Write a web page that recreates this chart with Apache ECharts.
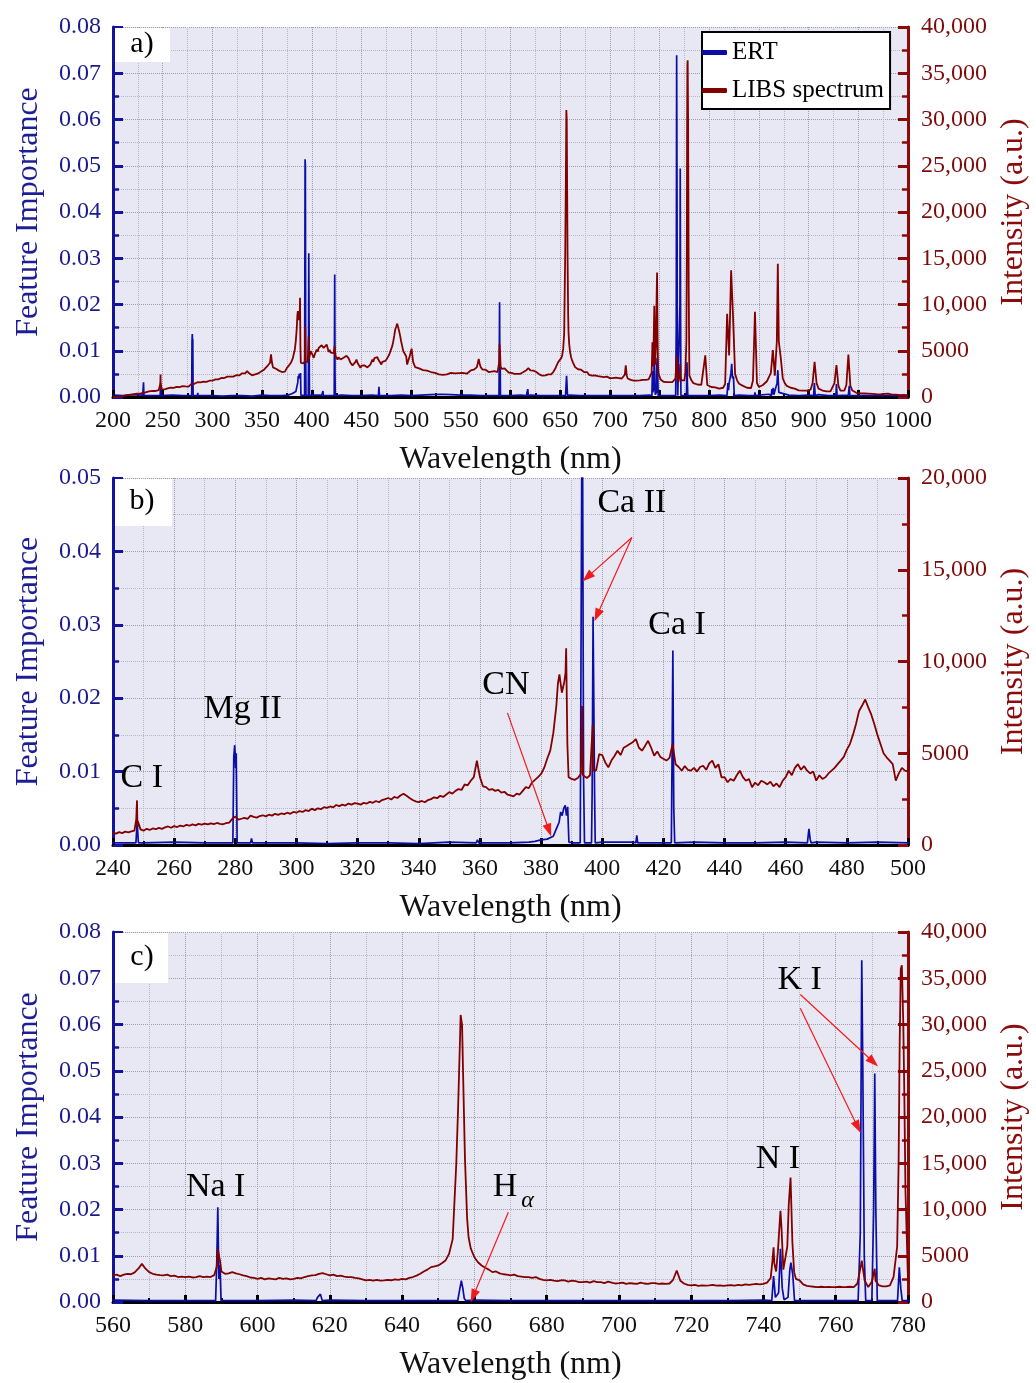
<!DOCTYPE html>
<html>
<head>
<meta charset="utf-8">
<script src="https://cdn.jsdelivr.net/npm/echarts@6/dist/echarts.min.js"></script>
<style>
html, body { margin: 0; padding: 0; background: #fff; }
#myChart { width: 1036px; height: 1383px; }
</style>
</head>
<body>
<div id="myChart"></div>
<script>
const libs200to238 = [0, 40, 20, 80, 60, 100, 140, 120, 220, 180, 290, 260, 350, 400, 380, 540, 470, 560, 600, 640]; // 2 nm step
const libs240to500 = [ // 1 nm step
  670, 620, 700, 650, 730, 690, 740, 780, 1000, 850,
  780, 880, 820, 900, 860, 930, 880, 960, 1010, 940,
  1030, 980, 1060, 1010, 1100, 1050, 1120, 1070, 1150, 1110,
  1170, 1120, 1180, 1140, 1200, 1150, 1130, 1190, 1220, 1420,
  1560, 1380, 1430, 1480, 1420, 1600, 1530, 1490, 1580, 1620,
  1560, 1650, 1600, 1700, 1640, 1720, 1680, 1760, 1700, 1800,
  1760, 1850, 1800, 1900, 1850, 1980, 1900, 2000, 1950, 2060,
  2020, 2100, 2050, 2180, 2120, 2200, 2150, 2260, 2200, 2280,
  2250, 2200, 2300, 2260, 2350, 2300, 2400, 2330, 2450, 2500,
  2560, 2480, 2620, 2560, 2700, 2790, 2680, 2560, 2450, 2380,
  2340, 2400, 2330, 2450, 2500, 2600, 2550, 2680, 2620, 2750,
  2880, 2800, 2950, 3050, 3000, 3300, 3250, 3500, 3700, 4600,
  3700, 3200, 3150, 3000, 3050, 2950, 3000, 2850, 2900, 2750,
  2700, 2650, 2800, 2750, 2950, 3150, 3100, 3400, 3550, 3700,
  3870, 4200, 4700, 5140, 6100, 7600, 9300, 8400, 9400, 3700,
  3600, 3550, 3650, 3870, 3700, 3650, 3800, 4100, 4050, 4950,
  4900, 4500, 4230, 4600, 4850, 5140, 4900, 5300, 5400, 5500,
  5600, 5770, 5300, 5140, 5400, 5680, 5300, 4870, 5100, 4800,
  4700, 4600, 4750, 5500, 4400, 4250, 4050, 4300, 4100, 4050,
  4200, 4000, 4250, 4320, 4100, 4450, 4600, 4200, 4400, 3690,
  3700, 3420, 3600, 3500, 3800, 4050, 3700, 3500, 3600, 3150,
  3400, 3250, 3500, 3420, 3300, 3450, 3200, 3350, 3150, 3500,
  3700, 4050, 3800, 4200, 4410, 4100, 4300, 4050, 3900, 4000,
  3510, 3800, 3600, 3690, 3900, 4050, 4200, 4410, 4600, 4800,
  5200, 5500, 6000, 6600, 7300, 7600, 7930, 7500, 7100, 6580,
  6000, 5500, 5000, 4780, 4600, 4410, 3510, 3900, 4200, 4050,
  4000
];
const libs502to558 = [3800, 3240, 3400, 3100, 3060, 2900, 3000, 2850, 2800, 2700, 2750, 2600, 2500, 2450, 2340,
  2400, 2500, 2450, 2520, 2600, 2480, 2550, 2650, 2590, 2700, 2600, 2750, 2520, 2650]; // 2 nm step
const libs560to780 = [ // 1 nm step
  2870, 2950, 2800, 2950, 3050, 3000, 3200, 3600, 4120, 3600,
  3230, 3050, 2950, 2900, 2870, 2950, 2800, 2850, 2700, 2750,
  2690, 2750, 2650, 2700, 2800, 2690, 2750, 2700, 2900, 5740,
  3300, 3050, 3100, 3230, 3100, 3000, 2870, 2800, 2650, 2600,
  2510, 2600, 2450, 2550, 2500, 2450, 2600, 2500, 2550, 2450,
  2510, 2600, 2550, 2700, 2800, 2870, 2900, 3050, 3120, 3000,
  2870, 2950, 2800, 2850, 2750, 2690, 2700, 2600, 2550, 2450,
  2330, 2400, 2300, 2380, 2300, 2330, 2400, 2350, 2450, 2400,
  2510, 2450, 2600, 2700, 2850, 3050, 3300, 3500, 3770, 3850,
  3950, 4200, 4480, 5200, 6800, 15000, 28000, 22500, 9000, 5800,
  4840, 4300, 3950, 3700, 3500, 3230, 3300, 3100, 3000, 2950,
  2870, 2950, 2800, 2750, 2700, 2690, 2600, 2700, 2500, 2400,
  2330, 2400, 2300, 2250, 2350, 2330, 2200, 2300, 2250, 2150,
  2150, 2200, 2100, 2250, 2150, 2150, 2050, 2200, 2100, 2000,
  2040, 2100, 1950, 2050, 2000, 1970, 2100, 2000, 1950, 2050,
  2040, 1950, 2000, 1970, 2000, 2400, 3410, 2300, 2000, 1850,
  1790, 1850, 1750, 1800, 1780, 1790, 1850, 1760, 1800, 1750,
  1790, 1820, 1760, 1850, 1800, 1900, 1850, 1900, 1950, 1900,
  1970, 2100, 2600, 4200, 5500, 8000, 3600, 10500, 6500, 2500,
  2330, 1900, 1750, 1700, 1650, 1610, 1650, 1600, 1620, 1600,
  1610, 1650, 1600, 1620, 1650, 1610, 2000, 4000, 2330, 1610,
  2200, 2300, 1790, 1700, 1690, 1800, 2690, 6000, 36000, 22000,
  2330
];
const libs782to1000 = [ // 2 nm step
  1800, 1500, 1440, 1350, 1380, 1300, 1400, 4500, 1300, 1150,
  1080, 1000, 1050, 950, 900, 950, 1000, 1400, 9000, 4500,
  13700, 8500, 2500, 1800, 1440, 1300, 1200, 1100, 1000, 900,
  950, 1800, 9200, 1500, 1080, 1100, 1300, 1440, 1700, 2160,
  2600, 5080, 2300, 6000, 6000, 4200, 2000, 1500, 1200, 1080,
  1000, 950, 900, 800, 720, 750, 700, 720, 700, 720,
  800, 1500, 3800, 1500, 900, 800, 700, 650, 600, 540,
  600, 700, 1500, 3450, 1200, 700, 650, 700, 1300, 4600,
  1200, 700, 500, 450, 360, 400, 350, 380, 330, 360,
  300, 340, 280, 300, 250, 280, 300, 330, 300, 360,
  300, 250, 220, 250, 180, 200, 180, 220, 200, 180
];
// narrow emission lines between grid points: [wavelength nm, intensity]
const libsLines = [
  [247.6, 1400], [247.85, 2430], [248.1, 1300],
  [385.5, 8800], [386.4, 9300], [386.8, 8300], [387.6, 8900], [388.2, 10720], [388.6, 5500],
  [393.1, 3900], [393.4, 7570], [393.7, 3800],
  [396.6, 3900], [396.9, 6580], [397.2, 4200],
  [500.5, 5230],
  [588.7, 3800], [589.6, 4480],
  [655.5, 21000], [656.2, 31030], [656.6, 29950], [657.4, 15500], [658.4, 7000],
  [742.5, 4500], [742.8, 5920], [743.5, 3300], [744.7, 9860], [745.5, 3500], [746.6, 6000], [747.5, 13450], [748.5, 3200],
  [767.2, 4480], [770.8, 3590],
  [777.4, 15000], [777.7, 28000], [778.3, 36400], [778.7, 30000], [779.3, 12000],
  [869.0, 14400]
];

// ERT feature importance: baseline every 10 nm (200-1000) plus the important lines
const ertBaseline = [
  0.0004, 0.0003, 0.0005, 0.0004, 0.0003, 0.0003, 0.0004, 0.0003, 0.0120, 0.0003,
  0.0003, 0.0002, 0.0003, 0.0003, 0.0002, 0.0004, 0.0005, 0.0003, 0.0007, 0.0003,
  0.0004, 0.0004, 0.0003, 0.0004, 0.0003, 0.0003, 0.0004, 0.0004, 0.0003, 0.0004,
  0.0003, 0.0004, 0.0005, 0.0006, 0.0005, 0.0004, 0.0004, 0.0003, 0.0003, 0.0004,
  0.0003, 0.0004, 0.0004, 0.0003, 0.0003, 0.0003, 0.0004, 0.0003, 0.0003, 0.0003,
  0.0003, 0.0003, 0.0003, 0.0003, 0.0004, 0.0003, 0.0003, 0.0003, 0.0003, 0.0003,
  0.0003, 0.0004, 0.0030, 0.0004, 0.0003, 0.0004, 0.0006, 0.0010, 0.0004, 0.0003,
  0.0004, 0.0005, 0.0003, 0.0005, 0.0004, 0.0003, 0.0003, 0.0003, 0.0003, 0.0003,
  0.0003
];
const ertLines = [
  [230.3, 0.0003], [230.7, 0.0032], [231.1, 0.0003],
  [247.5, 0.0003], [247.9, 0.0031], [248.3, 0.0003],
  [279.2, 0.0003], [279.5, 0.0120], [279.8, 0.0136], [280.1, 0.0105], [280.3, 0.0125], [280.6, 0.0003],
  [285.0, 0.0003], [285.3, 0.0009], [285.6, 0.0003],
  [358.8, 0.0003], [359.2, 0.0007], [359.6, 0.0003],
  [376, 0.0004], [378, 0.0005], [382, 0.0008], [384, 0.0012], [385.3, 0.0025], [385.9, 0.0031], [386.4, 0.0045],
  [386.9, 0.0040], [387.4, 0.0050], [387.9, 0.0054], [388.3, 0.0040], [388.7, 0.0052], [389.1, 0.0004],
  [392.8, 0.0003], [392.9, 0.0090], [393.3, 0.0514], [393.6, 0.0500], [393.9, 0.0090], [394.2, 0.0003],
  [396.5, 0.0003], [396.7, 0.0070], [397.0, 0.0311], [397.2, 0.0220], [397.5, 0.0070], [397.7, 0.0003],
  [411.0, 0.0003], [411.3, 0.0013], [411.6, 0.0003],
  [422.6, 0.0003], [422.9, 0.0150], [423.1, 0.0265], [423.4, 0.0050], [423.7, 0.0003],
  [467.1, 0.0003], [467.6, 0.0022], [468.0, 0.0008], [468.3, 0.0003],
  [588.4, 0.0003], [588.7, 0.0080], [589.0, 0.0205], [589.3, 0.0050], [589.6, 0.0080], [589.9, 0.0003],
  [616.2, 0.0003], [616.6, 0.0010], [617.0, 0.0008], [617.4, 0.0017], [617.9, 0.0003],
  [655.4, 0.0003], [655.9, 0.0025], [656.4, 0.0046], [656.8, 0.0030], [657.2, 0.0008], [657.6, 0.0003],
  [715.8, 0.0003], [716.1, 0.0006], [716.4, 0.0003],
  [742.3, 0.0003], [742.8, 0.0056], [743.3, 0.0010], [744.2, 0.0020], [744.7, 0.0115], [745.2, 0.0030],
  [745.7, 0.0005], [746.8, 0.0010], [747.3, 0.0070], [747.6, 0.0085], [748.1, 0.0060], [748.6, 0.0003],
  [766.2, 0.0003], [766.8, 0.0150], [767.2, 0.0739], [767.5, 0.0500], [767.9, 0.0100], [768.3, 0.0003],
  [770.2, 0.0003], [770.5, 0.0200], [770.8, 0.0494], [771.1, 0.0200], [771.5, 0.0003],
  [777.1, 0.0003], [777.6, 0.0075], [778.0, 0.0030], [778.4, 0.0003],
  [817.8, 0.0003], [818.8, 0.0030], [819.4, 0.0015], [821.8, 0.0050], [822.6, 0.0072], [823.4, 0.0040], [824.3, 0.0045], [825.2, 0.0003],
  [845.6, 0.0003], [846.0, 0.0010], [846.4, 0.0003],
  [862.4, 0.0003], [863.0, 0.0017], [863.6, 0.0005], [864.4, 0.0020], [865.0, 0.0005], [868.2, 0.0030], [869.0, 0.0058], [869.8, 0.0020],
  [905.0, 0.0003], [905.8, 0.0030], [906.6, 0.0003],
  [927.4, 0.0003], [928.0, 0.0028], [928.6, 0.0003],
  [940.3, 0.0003], [940.9, 0.0024], [941.5, 0.0003]
];

// peak annotations (text, wavelength, feature importance) and arrows (from -> to)
const notesB = [['C I', 249.4, 0.0091], ['Mg II', 282.4, 0.0185], ['CN', 368.5, 0.0218], ['Ca II', 409.7, 0.0466], ['Ca I', 424.5, 0.0300]];
const arrowsB = [[369.0, 0.0180, 382.6, 0.0020], [409.7, 0.0419, 395.1, 0.0365], [409.7, 0.0419, 398.3, 0.0313]];
const notesC = [['Na I', 588.4, 0.0249], ['H', 668.5, 0.0249], ['N I', 744.0, 0.0310], ['K I', 750.0, 0.0696]];
const arrowsC = [[669.4, 0.0194, 659.7, 0.0013], [750.2, 0.0665, 770.4, 0.0519], [750.2, 0.0635, 766.1, 0.0378]];

function onGrid(start, step, values) {
  return values.map((v, i) => [start + i * step, v]);
}
const byWavelength = (p, q) => p[0] - q[0];
const libsData = [].concat(
  onGrid(200, 2, libs200to238), onGrid(240, 1, libs240to500), onGrid(502, 2, libs502to558),
  onGrid(560, 1, libs560to780), onGrid(782, 2, libs782to1000), libsLines
).sort(byWavelength);
const ertData = onGrid(200, 10, ertBaseline).concat(ertLines).sort(byWavelength);

const FONT = '"Liberation Serif", "DejaVu Serif", serif';
const BLUE = '#0c0ca6';
const RED = '#820000';
const BLUE_AX = '#14149a';
const RED_AX = '#8b0a0a';

const panels = [
  { top: 27, height: 370, xMin: 200, xMax: 1000, xStep: 50, fiMax: 0.08, intMax: 40000, tag: 'a)', box: [115, 28, 55, 34] },
  { top: 478, height: 367, xMin: 240, xMax: 500, xStep: 20, fiMax: 0.05, intMax: 20000, tag: 'b)', box: [115, 479, 57, 47] },
  { top: 932, height: 370, xMin: 560, xMax: 780, xStep: 20, fiMax: 0.08, intMax: 40000, tag: 'c)', box: [115, 933, 53, 50] }
];

const gridLine = { show: true, lineStyle: { color: '#9d9dac', type: 'dotted', width: 1 } };
const minorGridLine = { show: true, lineStyle: { color: '#b6b6c6', type: 'dotted', width: 1 } };

function noteMarks(notes) {
  return notes.map(n => ({
    coord: [n[1], n[2]],
    label: { formatter: n[0] }
  }));
}
function arrowMarks(arrows) {
  return arrows.map(a => [{ coord: [a[0], a[1]] }, { coord: [a[2], a[3]] }]);
}

const grid = [], xAxis = [], yAxis = [], series = [], graphic = [];
panels.forEach((p, i) => {
  grid.push({ left: 113, right: 128, top: p.top, height: p.height, show: true,
    backgroundColor: '#e8e8f4', borderWidth: 0, outerBoundsMode: 'none' });
  xAxis.push({
    type: 'value', gridIndex: i, min: p.xMin, max: p.xMax, interval: p.xStep, offset: 3,
    name: 'Wavelength (nm)', nameLocation: 'middle', nameGap: 44,
    nameTextStyle: { fontSize: 32, color: '#111', fontFamily: FONT },
    axisLine: { lineStyle: { color: '#000', width: 3 } },
    axisTick: { inside: true, length: 7, lineStyle: { color: '#000', width: 3 } },
    minorTick: { show: true, splitNumber: 2, length: 4, lineStyle: { color: '#000', width: 2 } },
    axisLabel: { fontSize: 24, color: '#111', margin: 9, fontFamily: FONT, formatter: v => String(v) },
    splitLine: gridLine, minorSplitLine: minorGridLine
  });
  yAxis.push({
    type: 'value', gridIndex: i, position: 'left', min: 0, max: p.fiMax, interval: 0.01,
    name: 'Feature Importance', nameLocation: 'middle', nameGap: 68, nameRotate: 90,
    nameTextStyle: { fontSize: 32, color: '#1d1d96', fontFamily: FONT },
    axisLine: { show: true, lineStyle: { color: BLUE_AX, width: 3 } },
    axisTick: { show: true, inside: true, length: 10, lineStyle: { color: BLUE_AX, width: 3 } },
    minorTick: { show: true, splitNumber: 2, length: 6, lineStyle: { color: BLUE_AX, width: 2.5 } },
    axisLabel: { fontSize: 24, color: '#1a1a8c', margin: 12, fontFamily: FONT, formatter: v => v.toFixed(2) },
    splitLine: gridLine, minorSplitLine: minorGridLine
  });
  yAxis.push({
    type: 'value', gridIndex: i, position: 'right', min: 0, max: p.intMax, interval: 5000,
    name: 'Intensity (a.u.)', nameLocation: 'middle', nameGap: 90, nameRotate: 90,
    nameTextStyle: { fontSize: 32, color: RED_AX, fontFamily: FONT },
    axisLine: { show: true, lineStyle: { color: RED_AX, width: 3 } },
    axisTick: { show: true, inside: true, length: 10, lineStyle: { color: RED_AX, width: 3 } },
    minorTick: { show: true, splitNumber: 2, length: 6, lineStyle: { color: RED_AX, width: 2.5 } },
    axisLabel: { fontSize: 24, color: '#7c0c0c', margin: 13, fontFamily: FONT,
      formatter: v => v >= 10000 ? v.toLocaleString('en-US') : String(v) },
    splitLine: { show: false }
  });

  const ert = {
    name: 'ERT', type: 'line', xAxisIndex: i, yAxisIndex: 2 * i, data: ertData,
    showSymbol: false, symbol: 'none', sampling: null, animation: false,
    lineStyle: { color: BLUE, width: 1.7 }, itemStyle: { color: BLUE }, z: 3
  };
  const notes = i === 1 ? notesB : i === 2 ? notesC : null;
  const arrows = i === 1 ? arrowsB : i === 2 ? arrowsC : null;
  if (notes) {
    const marks = noteMarks(notes);
    if (i === 2) marks.push({ coord: [674.7, 0.0219], label: { formatter: 'α', fontSize: 24, fontStyle: 'italic' } });
    ert.markPoint = {
      silent: true, animation: false, symbol: 'rect', symbolSize: 1,
      itemStyle: { color: 'rgba(0,0,0,0)' },
      label: { show: true, position: 'inside', color: '#000', fontSize: 34, fontFamily: FONT },
      data: marks
    };
    ert.markLine = {
      silent: true, animation: false, symbol: ['none', 'triangle'], symbolSize: [9, 13],
      lineStyle: { color: '#f01c1c', width: 1.2, type: 'solid' },
      itemStyle: { color: '#f01c1c' },
      label: { show: false },
      data: arrowMarks(arrows)
    };
  }
  series.push(ert);
  series.push({
    name: 'LIBS spectrum', type: 'line', xAxisIndex: i, yAxisIndex: 2 * i + 1, data: libsData,
    showSymbol: false, symbol: 'none', animation: false,
    lineStyle: { color: RED, width: 1.8 }, itemStyle: { color: RED }, z: 4
  });

  graphic.push({ type: 'rect', shape: { x: p.box[0], y: p.box[1], width: p.box[2], height: p.box[3] },
    style: { fill: '#fff' }, z: 50 });
  graphic.push({ type: 'text', x: 142, y: p.box[1] + p.box[3] / 2 - 1, z: 51,
    style: { text: p.tag, fontSize: 30, fontFamily: FONT, fill: '#000', align: 'center', verticalAlign: 'middle' } });
});

const chart = echarts.init(document.getElementById('myChart'), null, { renderer: 'canvas' });
chart.setOption({
  animation: false,
  backgroundColor: '#fff',
  textStyle: { fontFamily: FONT },
  legend: {
    data: ['ERT', 'LIBS spectrum'], left: 702, top: 32, orient: 'vertical',
    icon: 'roundRect', itemWidth: 25, itemHeight: 5, itemGap: 13, padding: [8, 6, 6, 0],
    borderColor: '#000', borderWidth: 2, backgroundColor: '#fff', selectedMode: false,
    textStyle: { fontSize: 25, color: '#000', fontFamily: FONT }, z: 60
  },
  grid, xAxis, yAxis, series, graphic
});
</script>
</body>
</html>
